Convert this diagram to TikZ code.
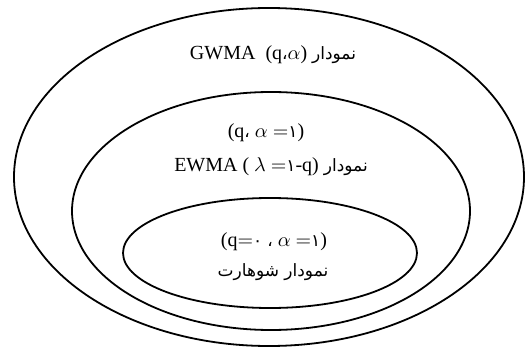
\documentclass[tikz,border=0pt]{standalone}
\usepackage{fontspec}
\setmainfont{Liberation Serif}
\newfontfamily\arabicfont[Script=Arabic,Scale=0.85]{DejaVu Sans}
\TeXXeTstate=1
\newcommand{\fa}[1]{{\arabicfont\beginR #1\endR}}
\newcommand{\fd}[1]{{\arabicfont #1}}

\begin{document}
\begin{tikzpicture}[x=0.5pt, y=0.5pt,
    every node/.style={font=\normalsize, inner sep=0pt},
    ring/.style={line width=0.9pt}]
  \useasboundingbox (0,0) rectangle (530,354);

  % nested sets: GWMA > EWMA > Shewhart
  \draw[ring] (269,177) ellipse [x radius=255, y radius=169];
  \draw[ring] (271,143) ellipse [x radius=199, y radius=119];
  \draw[ring] (270,101) ellipse [x radius=147, y radius=55];

  % labels
  \node (gwma) at (273,299) {GWMA\ \ (q\fd{،}$\alpha$) \fa{نمودار}};
  \node (ewmapar) at (266,221) {(q\fd{،} $\alpha$ $=$\fd{۱})};
  \node (ewma) at (271,187) {EWMA ( $\lambda$ $=$\fd{۱}-q) \fa{نمودار}};
  \node (shewpar) at (274,112) {(q$=$\fd{۰} \fd{،} $\alpha$ $=$\fd{۱})};
  \node (shew) at (273,82) {\fa{نمودار شوهارت}};
\end{tikzpicture}
\end{document}
